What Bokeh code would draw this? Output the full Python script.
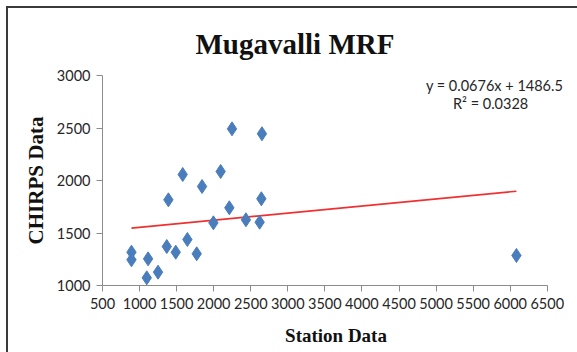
from bokeh.plotting import figure
from bokeh.models import Label, FixedTicker, Range1d
from bokeh.embed import file_html
from bokeh.resources import INLINE
import numpy as np

station = [891, 891, 1097, 1115, 1249, 1367, 1488, 1389, 1582, 1645, 1771,
           1843, 1996, 2094, 2211, 2247, 2435, 2620, 2643, 2651, 6084]
chirps = [1317, 1245, 1073, 1254, 1127, 1371, 1317, 1816, 2057, 1438, 1302,
          1943, 1597, 2086, 1740, 2492, 1626, 1603, 1826, 2445, 1286]
slope = 0.0676
intercept = 1486.5
r2 = 0.0328
x_ticks = list(range(500, 7000, 500))
y_ticks = [1000, 1500, 2000, 2500, 3000]

p = figure(width=569, height=344, output_backend="svg", toolbar_location=None,
           frame_width=467, frame_height=210,
           x_range=Range1d(500, 6800), y_range=Range1d(1000, 3000),
           min_border_left=94, min_border_top=67, min_border_right=8, min_border_bottom=67)
p.styles = {"border-top": "2px solid #3a3a3a", "border-left": "2px solid #3a3a3a",
            "margin-left": "6px", "margin-top": "6px"}
p.outline_line_color = None
p.xgrid.visible = False
p.ygrid.visible = False

for ax in (p.xaxis[0], p.yaxis[0]):
    ax.axis_line_color = "#8c8c8c"
    ax.major_tick_line_color = "#8c8c8c"
    ax.minor_tick_line_color = None
    ax.major_tick_in = 0
    ax.major_tick_out = 6
    ax.major_label_text_font = "Lato"
    ax.major_label_text_font_size = "14.5px"
    ax.major_label_text_color = "#262626"
    ax.axis_label_text_font = "Liberation Serif"
    ax.axis_label_text_font_style = "bold"
    ax.axis_label_text_color = "#111111"

p.xaxis.axis_label_text_font_size = "19px"
p.yaxis.axis_label_text_font_size = "21px"
p.xaxis.ticker = FixedTicker(ticks=x_ticks)
p.yaxis.ticker = FixedTicker(ticks=y_ticks)
p.xaxis.bounds = (min(x_ticks), max(x_ticks))
p.xaxis.axis_label = "Station Data"
p.yaxis.axis_label = "CHIRPS Data"
p.xaxis.major_label_standoff = 6
p.yaxis.major_label_standoff = 6
p.yaxis.axis_label_standoff = 6
p.xaxis.axis_label_standoff = 13

p.title.text = "Mugavalli MRF"
p.title.text_font = "Liberation Serif"
p.title.text_font_style = "bold"
p.title.text_font_size = "29px"
p.title.align = "left"
p.title.offset = 93
p.title.standoff = 31
p.title.text_color = "#111111"

xs = np.array([min(station), max(station)])
p.line(xs, slope * xs + intercept, line_color="#f03030", line_width=1.6)
p.scatter(station, chirps, marker="diamond", size=14, fill_color="#4a7dbb", line_color="#4a7dbb")

p.add_layout(Label(x=5789, y=2905, text="y = 0.0676x + 1486.5", text_font="Lato",
                   text_font_size="14.5px", text_align="center", text_baseline="middle",
                   text_color="#262626"))
p.add_layout(Label(x=5736, y=2733, text="R² = 0.0328", text_font="Lato",
                   text_font_size="14.5px", text_align="center", text_baseline="middle",
                   text_color="#262626"))

open("out.html", "w").write(file_html(p, INLINE))
